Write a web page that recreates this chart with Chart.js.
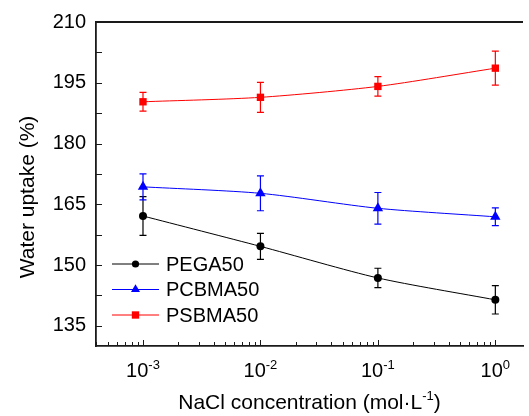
<!DOCTYPE html>
<html>
<head>
<meta charset="utf-8">
<script src="https://cdn.jsdelivr.net/npm/chart.js@4.4.1/dist/chart.umd.min.js"></script>
<style>
  html, body { margin: 0; padding: 0; background: #fff; overflow: hidden; }
  #wrap { width: 529px; height: 416px; }
</style>
</head>
<body>
<div id="wrap"><canvas id="uptakeChart" width="529" height="416"></canvas></div>
<script>
// ==========================================
// DATA
// ==========================================
const concentrations = [0.001, 0.01, 0.1, 1];

const pega50 = [162.1, 154.6, 146.8, 141.4];
const pega50Err = [4.8, 3.2, 2.4, 3.5];

const pcbma50 = [169.3, 167.7, 164.0, 161.9];
const pcbma50Err = [3.2, 4.3, 3.9, 2.2];

const psbma50 = [190.3, 191.4, 194.1, 198.6];
const psbma50Err = [2.3, 3.7, 2.4, 4.2];

const xMajorTicks = [0.001, 0.01, 0.1, 1];
const xExponents = ['-3', '-2', '-1', '0'];
const xMinorFactors = [2, 3, 4, 5, 6, 7, 8, 9];
const yMajorTicks = [135, 150, 165, 180, 195, 210];
const yMinorTicks = [142.5, 157.5, 172.5, 187.5, 202.5];

const FONT = "'Liberation Sans', Arial, sans-serif";
const AXIS_COLOR = '#1a1a1a';

// ==========================================
// HELPERS
// ==========================================
function drawMarker(ctx, style, x, y, r, color) {
    ctx.save();
    ctx.fillStyle = color;
    ctx.beginPath();
    if (style === 'circle') {
        ctx.arc(x, y, r, 0, Math.PI * 2);
    } else if (style === 'triangle') {
        ctx.moveTo(x, y - r);
        ctx.lineTo(x + r * 0.866, y + r * 0.5);
        ctx.lineTo(x - r * 0.866, y + r * 0.5);
        ctx.closePath();
    } else {
        const s = r / Math.SQRT2;
        ctx.rect(x - s, y - s, 2 * s, 2 * s);
    }
    ctx.fill();
    ctx.restore();
}

function makeDataset(label, values, color, style, radius) {
    return {
        label: label,
        data: concentrations.map((c, i) => ({ x: c, y: values[i] })),
        borderColor: color,
        backgroundColor: color,
        borderWidth: 1,
        pointStyle: style,
        pointRadius: radius,
        pointHoverRadius: radius,
        pointBorderWidth: 0,
        tension: 0.25
    };
}

// ==========================================
// PLUGIN: ERROR BARS
// ==========================================
const errorBarsPlugin = {
    id: 'errorBars',
    beforeDatasetsDraw(chart) {
        const { ctx, scales: { y } } = chart;
        const errs = [pega50Err, pcbma50Err, psbma50Err];
        const vals = [pega50, pcbma50, psbma50];
        chart.data.datasets.forEach((ds, i) => {
            const meta = chart.getDatasetMeta(i);
            ctx.save();
            ctx.strokeStyle = ds.borderColor;
            ctx.lineWidth = 1.2;
            meta.data.forEach((pt, j) => {
                const top = y.getPixelForValue(vals[i][j] + errs[i][j]);
                const bot = y.getPixelForValue(vals[i][j] - errs[i][j]);
                ctx.beginPath();
                ctx.moveTo(pt.x, top); ctx.lineTo(pt.x, bot);
                ctx.moveTo(pt.x - 3.5, top); ctx.lineTo(pt.x + 3.5, top);
                ctx.moveTo(pt.x - 3.5, bot); ctx.lineTo(pt.x + 3.5, bot);
                ctx.stroke();
            });
            ctx.restore();
        });
    }
};

// ==========================================
// PLUGIN: FRAME, INWARD TICKS, LABELS, LEGEND
// ==========================================
const decorPlugin = {
    id: 'decor',
    afterDraw(chart) {
        const { ctx, chartArea: area, scales: { x, y } } = chart;
        ctx.save();

        // top border
        ctx.strokeStyle = AXIS_COLOR;
        ctx.lineWidth = 1.8;
        ctx.beginPath();
        ctx.moveTo(area.left, area.top);
        ctx.lineTo(area.right, area.top);
        ctx.stroke();

        // inward ticks
        ctx.lineWidth = 1;
        ctx.beginPath();
        xMajorTicks.forEach(v => {
            const px = Math.round(x.getPixelForValue(v)) + 0.5;
            ctx.moveTo(px, area.bottom); ctx.lineTo(px, area.bottom - 6);
        });
        [0.0001, 0.001, 0.01, 0.1, 1].forEach(dec => {
            xMinorFactors.forEach(f => {
                const v = dec * f;
                if (v < x.min || v > x.max) return;
                const px = Math.round(x.getPixelForValue(v)) + 0.5;
                ctx.moveTo(px, area.bottom); ctx.lineTo(px, area.bottom - 4);
            });
        });
        yMajorTicks.concat(yMinorTicks).forEach(v => {
            const py = Math.round(y.getPixelForValue(v)) + 0.5;
            ctx.moveTo(area.left, py); ctx.lineTo(area.left + 6, py);
        });
        ctx.stroke();

        // x tick labels 10^n
        ctx.fillStyle = '#000';
        ctx.textBaseline = 'alphabetic';
        ctx.textAlign = 'left';
        const bigFont = '20px ' + FONT;
        const supFont = '13px ' + FONT;
        xMajorTicks.forEach((v, i) => {
            ctx.font = bigFont;
            const wBase = ctx.measureText('10').width;
            ctx.font = supFont;
            const wExp = ctx.measureText(xExponents[i]).width;
            const start = x.getPixelForValue(v) - (wBase + wExp) / 2;
            ctx.font = bigFont;
            ctx.fillText('10', start, area.bottom + 31);
            ctx.font = supFont;
            ctx.fillText(xExponents[i], start + wBase, area.bottom + 23);
        });

        // x title
        const titleMain = 'NaCl concentration (mol\u00B7L';
        const titleFont = '21px ' + FONT;
        ctx.font = titleFont;
        const wMain = ctx.measureText(titleMain).width;
        const wClose = ctx.measureText(')').width;
        ctx.font = supFont;
        const wSup = ctx.measureText('-1').width;
        const tx = (area.left + area.right) / 2 - (wMain + wSup + wClose) / 2;
        const ty = area.bottom + 63;
        ctx.font = titleFont;
        ctx.fillText(titleMain, tx, ty);
        ctx.font = supFont;
        ctx.fillText('-1', tx + wMain, ty - 9);
        ctx.font = titleFont;
        ctx.fillText(')', tx + wMain + wSup, ty);

        // y title
        ctx.save();
        ctx.translate(area.left - 68, (area.top + area.bottom) / 2 + 13);
        ctx.rotate(-Math.PI / 2);
        ctx.textAlign = 'center';
        ctx.textBaseline = 'middle';
        ctx.font = '21px ' + FONT;
        ctx.fillText('Water uptake (%)', 0, 0);
        ctx.restore();

        // legend
        ctx.font = '20px ' + FONT;
        ctx.textBaseline = 'middle';
        chart.data.datasets.forEach((ds, i) => {
            const ly = area.bottom - 82 + i * 25.5;
            const lx = area.left + 16;
            ctx.strokeStyle = ds.borderColor;
            ctx.lineWidth = 1;
            ctx.beginPath();
            ctx.moveTo(lx, ly); ctx.lineTo(lx + 47, ly);
            ctx.stroke();
            drawMarker(ctx, ds.pointStyle, lx + 23.5, ly, ds.pointStyle === 'circle' ? 3.6 : 5.2, ds.borderColor);
            ctx.fillStyle = '#000';
            ctx.fillText(ds.label, lx + 54, ly + 1);
        });

        ctx.restore();
    }
};

// ==========================================
// CHART
// ==========================================
new Chart(document.getElementById('uptakeChart'), {
    type: 'line',
    data: {
        datasets: [
            makeDataset('PEGA50', pega50, '#000000', 'circle', 4),
            makeDataset('PCBMA50', pcbma50, '#0000ff', 'triangle', 6),
            makeDataset('PSBMA50', psbma50, '#ff0000', 'rect', 5.2)
        ]
    },
    options: {
        responsive: false,
        animation: false,
        layout: { padding: { top: 12, right: 0, bottom: 0, left: 0 } },
        plugins: {
            legend: { display: false },
            tooltip: { enabled: false }
        },
        scales: {
            x: {
                type: 'logarithmic',
                min: 0.000398,
                max: 1.72,
                grid: { display: false, drawTicks: false },
                border: { display: true, color: AXIS_COLOR, width: 1.8 },
                ticks: { display: false },
                afterBuildTicks: (s) => { s.ticks = xMajorTicks.map(v => ({ value: v })); },
                afterFit: (s) => { s.height = 70; }
            },
            y: {
                min: 130,
                max: 210,
                grid: { display: false, drawTicks: false },
                border: { display: true, color: AXIS_COLOR, width: 1.8 },
                ticks: {
                    color: '#000',
                    padding: 10,
                    font: { family: FONT, size: 20 }
                },
                afterBuildTicks: (s) => { s.ticks = yMajorTicks.map(v => ({ value: v })); },
                afterFit: (s) => { s.width = 96; }
            }
        }
    },
    plugins: [errorBarsPlugin, decorPlugin]
});
</script>
</body>
</html>
